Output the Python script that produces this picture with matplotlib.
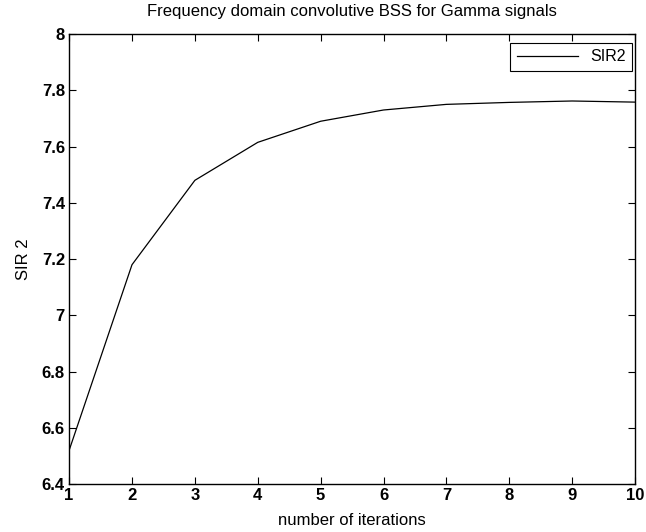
import matplotlib
matplotlib.use("Agg")
import matplotlib.pyplot as plt

plt.rcParams['font.family'] = ['Liberation Sans', 'DejaVu Sans']

# data
iterations = [1, 2, 3, 4, 5, 6, 7, 8, 9, 10]
sir2 = [6.52, 7.18, 7.48, 7.615, 7.69, 7.73, 7.75, 7.757, 7.762, 7.758]
y_ticks = [6.4, 6.6, 6.8, 7, 7.2, 7.4, 7.6, 7.8, 8]
y_labels = ["6.4", "6.6", "6.8", "7", "7.2", "7.4", "7.6", "7.8", "8"]

fig = plt.figure(figsize=(6.46, 5.32), dpi=100)
ax = fig.add_axes([0.107, 0.090, 0.876, 0.846])

ax.plot(iterations, sir2, color="black", linewidth=0.9, label="SIR2")

ax.set_xlim(1, 10)
ax.set_ylim(6.4, 8)
ax.set_xticks(iterations)
ax.set_yticks(y_ticks)
ax.set_yticklabels(y_labels)
ax.tick_params(direction="in", top=True, right=True, length=5, width=0.8,
               labelsize=12, pad=3)
for lbl in ax.get_xticklabels() + ax.get_yticklabels():
    lbl.set_fontweight("bold")
for s in ax.spines.values():
    s.set_linewidth(1.0)

ax.set_title("Frequency domain convolutive BSS for Gamma signals", fontsize=12, pad=13)
ax.set_xlabel("number of iterations", fontsize=12, labelpad=7)
ax.set_ylabel("SIR 2", fontsize=12, labelpad=8)

leg = ax.legend(loc="upper right", bbox_to_anchor=(0.995, 0.98), borderaxespad=0,
                fontsize=11.5, fancybox=False, framealpha=1,
                edgecolor="black", handlelength=3.8)
leg.get_frame().set_linewidth(0.8)

fig.savefig("out.png", dpi=100)
